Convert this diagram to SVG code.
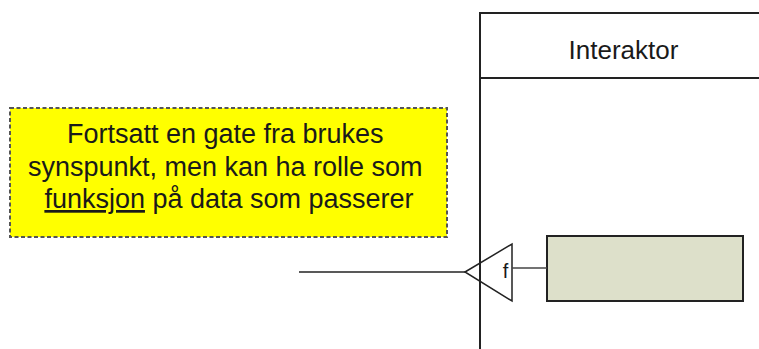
<svg xmlns="http://www.w3.org/2000/svg" width="759" height="349" viewBox="0 0 759 349">
<style>
.t{font-family:"Liberation Sans",Arial,sans-serif;fill:#1a1a1a}
</style>
<rect width="759" height="349" fill="#fff"/>
<g id="interaktor">
<rect x="480" y="13" width="290" height="350" fill="#fff" stroke="#222" stroke-width="2"/>
<line x1="480" y1="78" x2="759" y2="78" stroke="#222" stroke-width="2"/>
<text class="t" x="623.5" y="59" font-size="26" text-anchor="middle">Interaktor</text>
</g>
<g id="note">
<rect x="10" y="108" width="437" height="129" fill="#ffff00" stroke="#555" stroke-width="2" stroke-dasharray="4,2.5"/>
<text class="t" font-size="27" text-anchor="middle">
<tspan x="229" y="143">Fortsatt en gate fra brukes</tspan>
<tspan x="229" y="176">synspunkt, men kan ha rolle som</tspan>
<tspan x="229" y="208"><tspan text-decoration="underline">funksjon</tspan> på data som passerer</tspan>
</text>
</g>
<g id="gate">
<polygon points="465,272 512,244 512,301" fill="none" stroke="#222" stroke-width="1.5"/>
<text class="t" x="505.5" y="278" font-size="20" text-anchor="middle" fill="#555">f</text>
</g>
<g id="funksjon">
<rect x="547" y="236" width="196" height="65" fill="#dde0ca" stroke="#222" stroke-width="2"/>
</g>
<g id="connectors">
<line x1="299" y1="272" x2="465" y2="272" stroke="#222" stroke-width="1.5"/>
<line x1="512" y1="268" x2="547" y2="268" stroke="#444" stroke-width="1.5"/>
</g>
</svg>
